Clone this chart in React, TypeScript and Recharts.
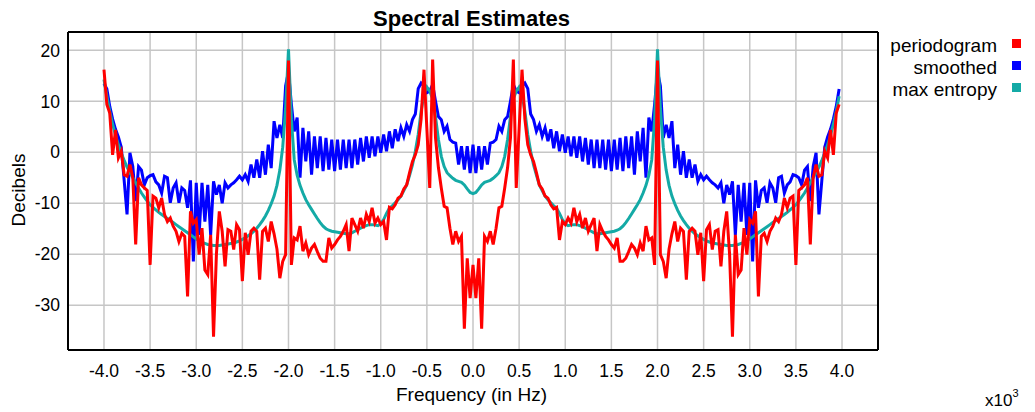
import React from "react";
import { LineChart, Line, XAxis, YAxis, CartesianGrid } from "recharts";

// Values in dB, sampled every 31.25 Hz (0.03125 kHz) from -4.0 kHz upward.
// *_NEG: -4.0 .. 0.0 (129 samples), *_POS: 0.03125 .. 3.96875 (127 samples)
const PERIODOGRAM_NEG = [
  16.2, 9.4, 7.7, -0.5, 4.4, -1.1, 0.2, -4.4, -4.7, -2.4,
  -5.0, -18.1, -5.0, -6.4, -7.0, -7.5, -22.1, -8.6, -9.0, -10.9,
  -9.0, -12.2, -13.6, -12.9, -14.5, -15.5, -17.5, -15.9, -16.5, -28.3,
  -11.6, -13.9, -13.2, -20.1, -14.9, -23.1, -24.0, -16.2, -36.2, -20.0,
  -11.6, -15.5, -22.4, -15.2, -15.5, -19.1, -14.2, -15.2, -25.3, -15.8,
  -20.1, -15.5, -14.9, -15.5, -25.0, -15.5, -14.9, -17.5, -13.6, -16.0,
  -19.0, -24.7, -21.4, -20.1, 18.0, -22.1, -16.8, -17.2, -14.5, -19.4,
  -17.8, -20.1, -18.8, -18.1, -19.5, -20.8, -21.4, -21.4, -16.8, -18.8,
  -18.1, -17.2, -16.5, -15.5, -14.2, -19.4, -12.9, -14.2, -15.5, -12.9,
  -14.9, -12.2, -13.6, -10.9, -13.9, -12.9, -14.2, -13.6, -17.2, -10.8,
  -11.1, -10.3, -9.0, -8.6, -7.2, -6.4, -4.0, -1.8, -0.5, 1.5,
  6.5, 16.2, 4.6, -7.0, 18.2, 2.8, -3.0, -7.0, -10.6, -10.9,
  -14.9, -18.1, -15.5, -17.5, -16.5, -34.6, -20.8, -28.6, -22.1,
];
const PERIODOGRAM_POS = [
  -28.6, -20.8, -34.6, -16.5, -17.5, -15.5, -18.1, -14.9, -10.9, -10.6,
  -7.0, -3.0, 2.8, 18.2, -7.0, 4.6, 16.2, 6.5, 1.5, -0.5,
  -1.8, -4.0, -6.4, -7.2, -8.6, -9.0, -10.3, -11.1, -10.8, -17.2,
  -13.6, -14.2, -12.9, -13.9, -10.9, -13.6, -12.2, -14.9, -12.9, -15.5,
  -14.2, -12.9, -19.4, -14.2, -15.5, -16.5, -17.2, -18.1, -18.8, -16.8,
  -21.4, -21.4, -20.8, -19.5, -18.1, -18.8, -20.1, -17.8, -19.4, -14.5,
  -17.2, -16.8, -22.1, 18.0, -20.1, -21.4, -24.7, -19.0, -16.0, -13.6,
  -17.5, -14.9, -15.5, -25.0, -15.5, -14.9, -15.5, -20.1, -15.8, -25.3,
  -15.2, -14.2, -19.1, -15.5, -15.2, -22.4, -15.5, -11.6, -20.0, -36.2,
  -16.2, -24.0, -23.1, -14.9, -20.1, -13.2, -13.9, -11.6, -28.3, -16.5,
  -15.9, -17.5, -15.5, -14.5, -12.9, -13.6, -12.2, -9.0, -10.9, -9.0,
  -8.6, -22.1, -7.5, -7.0, -6.4, -5.0, -18.1, -5.0, -2.4, -4.7,
  -4.4, 0.2, -1.1, 4.4, -0.5, 7.7, 9.4,
];

const SMOOTHED_NEG = [
  13.5, 12.4, 9.0, 6.5, 4.5, 3.0, 1.0, -5.5, -12.2, -0.1,
  -2.8, -9.6, -2.8, -3.5, -6.4, -5.0, -4.6, -4.4, -5.8, -6.4,
  -8.0, -4.7, -5.0, -9.9, -7.0, -6.0, -9.9, -7.0, -7.5, -10.9,
  -5.5, -21.4, -6.0, -16.2, -6.0, -13.6, -6.4, -16.2, -5.7, -8.3,
  -6.4, -10.0, -6.0, -7.0, -6.4, -6.0, -5.4, -4.7, -5.4, -4.4,
  -5.7, -2.4, -5.0, -1.4, -5.0, 0.2, -4.4, 1.5, -3.1, 6.1,
  2.8, 5.4, 2.8, 13.0, 15.9, 9.4, 4.1, 6.8, -5.0, 4.8,
  -1.8, 4.1, -4.4, 3.1, -3.1, 3.1, -3.7, 2.8, -3.4, 2.5,
  -3.7, 2.5, -3.4, 2.5, -3.1, 2.5, -3.1, 2.5, -2.4, 2.8,
  -1.8, 3.1, -1.1, 3.1, -0.8, 3.1, -0.1, 3.5, 0.2, 4.1,
  0.8, 4.5, 2.2, 4.8, 3.1, 5.4, 4.1, 6.4, 7.5, 12.5,
  13.6, 13.0, 11.7, 12.0, 13.3, 10.0, 7.0, 6.4, 4.1, 5.1,
  2.5, 2.0, 1.8, -2.4, 1.2, -3.4, 1.2, -4.1, 1.5,
];
const SMOOTHED_POS = [
  -4.1, 1.2, -3.4, 1.2, -2.4, 1.8, 2.0, 2.5, 5.1, 4.1,
  6.4, 7.0, 10.0, 13.3, 12.0, 11.7, 13.0, 13.6, 12.5, 7.5,
  6.4, 4.1, 5.4, 3.1, 4.8, 2.2, 4.5, 0.8, 4.1, 0.2,
  3.5, -0.1, 3.1, -0.8, 3.1, -1.1, 3.1, -1.8, 2.8, -2.4,
  2.5, -3.1, 2.5, -3.1, 2.5, -3.4, 2.5, -3.7, 2.5, -3.4,
  2.8, -3.7, 3.1, -3.1, 3.1, -4.4, 4.1, -1.8, 4.8, -5.0,
  6.8, 4.1, 9.4, 15.9, 13.0, 2.8, 5.4, 2.8, 6.1, -3.1,
  1.5, -4.4, 0.2, -5.0, -1.4, -5.0, -2.4, -5.7, -4.4, -5.4,
  -4.7, -5.4, -6.0, -6.4, -7.0, -6.0, -10.0, -6.4, -8.3, -5.7,
  -16.2, -6.4, -13.6, -6.0, -16.2, -6.0, -21.4, -5.5, -10.9, -7.5,
  -7.0, -9.9, -6.0, -7.0, -9.9, -5.0, -4.7, -8.0, -6.4, -5.8,
  -4.4, -4.6, -5.0, -6.4, -3.5, -2.8, -9.6, -2.8, -0.1, -12.2,
  -5.5, 1.0, 3.0, 4.5, 6.5, 9.0, 12.4,
];

const MAXENT_NEG = [
  14.3, 11.0, 8.0, 5.5, 3.3, 1.5, -0.2, -1.6, -2.9, -4.0,
  -5.0, -6.0, -7.0, -8.0, -8.8, -9.6, -10.3, -10.8, -11.3, -11.8,
  -12.2, -12.6, -13.0, -13.4, -13.8, -14.2, -14.6, -15.0, -15.4, -15.8,
  -16.2, -16.6, -17.0, -17.3, -17.6, -17.9, -18.1, -18.2, -18.3, -18.3,
  -18.3, -18.2, -18.1, -18.0, -17.9, -17.8, -17.6, -17.4, -17.1, -16.8,
  -16.4, -16.0, -15.5, -14.9, -14.2, -13.4, -12.5, -11.4, -10.1, -8.6,
  -6.5, -3.5, 1.0, 8.5, 20.2, 6.5, -1.5, -4.5, -6.5, -8.0,
  -9.3, -10.3, -11.2, -12.1, -13.0, -13.8, -14.5, -15.0, -15.3, -15.5,
  -15.6, -15.7, -15.8, -15.9, -16.0, -16.0, -15.8, -15.5, -15.2, -14.9,
  -14.6, -14.4, -14.2, -14.2, -14.3, -14.4, -14.0, -13.2, -12.0, -11.0,
  -10.5, -9.9, -9.3, -8.6, -7.5, -6.4, -4.5, -2.5, 0.2, 3.5,
  8.0, 11.5, 12.8, 12.0, 10.5, 7.0, 2.5, -0.8, -2.8, -4.0,
  -4.6, -5.1, -5.5, -5.7, -5.9, -6.4, -7.2, -7.9, -8.1,
];
const MAXENT_POS = [
  -7.9, -7.2, -6.4, -5.9, -5.7, -5.5, -5.1, -4.6, -4.0, -2.8,
  -0.8, 2.5, 7.0, 10.5, 12.0, 12.8, 11.5, 8.0, 3.5, 0.2,
  -2.5, -4.5, -6.4, -7.5, -8.6, -9.3, -9.9, -10.5, -11.0, -12.0,
  -13.2, -14.0, -14.4, -14.3, -14.2, -14.2, -14.4, -14.6, -14.9, -15.2,
  -15.5, -15.8, -16.0, -16.0, -15.9, -15.8, -15.7, -15.6, -15.5, -15.3,
  -15.0, -14.5, -13.8, -13.0, -12.1, -11.2, -10.3, -9.3, -8.0, -6.5,
  -4.5, -1.5, 6.5, 20.2, 8.5, 1.0, -3.5, -6.5, -8.6, -10.1,
  -11.4, -12.5, -13.4, -14.2, -14.9, -15.5, -16.0, -16.4, -16.8, -17.1,
  -17.4, -17.6, -17.8, -17.9, -18.0, -18.1, -18.2, -18.3, -18.3, -18.3,
  -18.2, -18.1, -17.9, -17.6, -17.3, -17.0, -16.6, -16.2, -15.8, -15.4,
  -15.0, -14.6, -14.2, -13.8, -13.4, -13.0, -12.6, -12.2, -11.8, -11.3,
  -10.8, -10.3, -9.6, -8.8, -8.0, -7.0, -6.0, -5.0, -4.0, -2.9,
  -1.6, -0.2, 1.5, 3.3, 5.5, 8.0, 11.0,
];

const X_TICKS = [-4, -3.5, -3, -2.5, -2, -1.5, -1, -0.5, 0, 0.5, 1, 1.5, 2, 2.5, 3, 3.5, 4];
const Y_TICKS = [-30, -20, -10, 0, 10, 20];
const SERIES = [
  { key: "p", name: "periodogram", color: "#ff0000" },
  { key: "s", name: "smoothed", color: "#0000ff" },
  { key: "m", name: "max entropy", color: "#14aaa6" },
];

const START_KHZ = -4;
const STEP_KHZ = 0.03125;

const periodogram = [...PERIODOGRAM_NEG, ...PERIODOGRAM_POS];
const smoothed = [...SMOOTHED_NEG, ...SMOOTHED_POS];
const maxEntropy = [...MAXENT_NEG, ...MAXENT_POS];
const data = periodogram.map((p, i) => ({
  f: START_KHZ + i * STEP_KHZ,
  p,
  s: smoothed[i],
  m: maxEntropy[i],
}));

const FONT = "'Liberation Sans', Arial, Helvetica, sans-serif";
const X_DOMAIN: [number, number] = [-4.39, 4.39];
const Y_DOMAIN: [number, number] = [-38.8, 23.6];
const FRAME = { stroke: "#000", strokeWidth: 2 };
const TICKLINE = { stroke: "#000", strokeWidth: 1.5 };

export default function App() {
  return (
    <div style={{ position: "relative", width: 1027, height: 404, fontFamily: FONT }}>
      <LineChart
        width={1027}
        height={404}
        data={data}
        margin={{ top: 24, right: 157, bottom: 32, left: 10 }}
      >
        <CartesianGrid xAxisId="x" yAxisId="y" stroke="#c6c6c6" strokeWidth={1.5} />
        <XAxis
          xAxisId="x"
          dataKey="f"
          type="number"
          domain={X_DOMAIN}
          allowDataOverflow
          ticks={X_TICKS}
          interval={0}
          tickFormatter={(v: number) => v.toFixed(1)}
          height={30}
          axisLine={false}
          tickLine={false}
          tickSize={8}
          tickMargin={7}
          tick={{ fill: "#000", fontSize: 17.5, fontFamily: FONT }}
        />
        <XAxis
          xAxisId="xb"
          orientation="bottom"
          mirror
          type="number"
          domain={X_DOMAIN}
          allowDataOverflow
          ticks={X_TICKS}
          interval={0}
          tick={false}
          tickSize={7}
          tickLine={TICKLINE}
          axisLine={FRAME}
        />
        <XAxis
          xAxisId="xt"
          orientation="top"
          mirror
          type="number"
          domain={X_DOMAIN}
          allowDataOverflow
          ticks={X_TICKS}
          interval={0}
          tick={false}
          tickSize={7}
          tickLine={TICKLINE}
          axisLine={FRAME}
        />
        <YAxis
          yAxisId="y"
          type="number"
          domain={Y_DOMAIN}
          allowDataOverflow
          ticks={Y_TICKS}
          interval={0}
          width={50}
          axisLine={false}
          tickLine={false}
          tickSize={4}
          tickMargin={4}
          tick={{ fill: "#000", fontSize: 17.5, fontFamily: FONT }}
        />
        <YAxis
          yAxisId="yl"
          orientation="left"
          mirror
          type="number"
          domain={Y_DOMAIN}
          allowDataOverflow
          ticks={Y_TICKS}
          interval={0}
          tick={false}
          tickSize={7}
          tickLine={TICKLINE}
          axisLine={FRAME}
        />
        <YAxis
          yAxisId="yr"
          orientation="right"
          mirror
          type="number"
          domain={Y_DOMAIN}
          allowDataOverflow
          ticks={Y_TICKS}
          interval={0}
          tick={false}
          tickSize={7}
          tickLine={TICKLINE}
          axisLine={FRAME}
        />
        <Line xAxisId="x" yAxisId="y" type="linear" dataKey="s" name="smoothed" stroke="#0000ff" strokeWidth={3} dot={false} activeDot={false} isAnimationActive={false} />
        <Line xAxisId="x" yAxisId="y" type="linear" dataKey="m" name="max entropy" stroke="#14aaa6" strokeWidth={3} dot={false} activeDot={false} isAnimationActive={false} />
        <Line xAxisId="x" yAxisId="y" type="linear" dataKey="p" name="periodogram" stroke="#ff0000" strokeWidth={3} dot={false} activeDot={false} isAnimationActive={false} />
      </LineChart>
      <svg
        width={1027}
        height={404}
        style={{ position: "absolute", left: 0, top: 0, pointerEvents: "none", overflow: "visible" }}
        fontFamily={FONT}
      >
        <text x={463.5} y={18} textAnchor="middle" fontSize={22} fontWeight="bold" fill="#000">
          Spectral Estimates
        </text>
        <text x={463.5} y={393} textAnchor="middle" fontSize={19} fill="#000">
          Frequency (in Hz)
        </text>
        <text transform="translate(17,182) rotate(-90)" textAnchor="middle" fontSize={19} fill="#000">
          Decibels
        </text>
        <text x={977} y={398} fontSize={17} fill="#000">
          x10<tspan fontSize={11} dy={-9}>3</tspan>
        </text>
        {SERIES.map((s, i) => (
          <g key={s.key}>
            <text x={989} y={43.5 + i * 22} textAnchor="end" fontSize={19} fill="#000">
              {s.name}
            </text>
            <rect x={1004} y={31 + i * 22} width={9} height={9} fill={s.color} />
          </g>
        ))}
      </svg>
    </div>
  );
}
